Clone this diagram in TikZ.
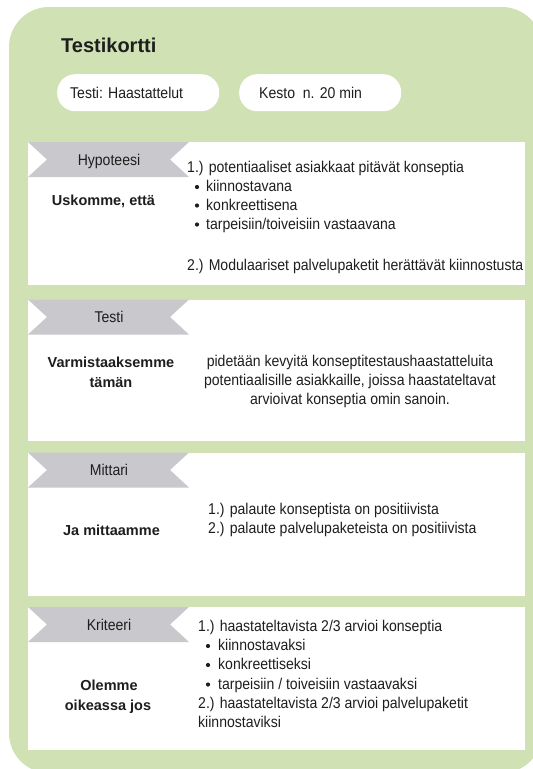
\documentclass[tikz,border=0pt]{standalone}
\usepackage{fontspec}
\setmainfont{Liberation Sans}
\newfontfamily\narrowsans[FakeStretch=0.9]{Liberation Sans}
\definecolor{cardgreen}{HTML}{D0E2B4}
\definecolor{ribbongray}{HTML}{C9C8CC}
\definecolor{ink}{HTML}{1E1E1E}
\begin{document}
\begin{tikzpicture}[x=1pt,y=-1pt,
  body/.style={font=\narrowsans\fontsize{15.6}{18}\selectfont, text=ink, inner sep=0pt},
  lbl/.style={font=\bfseries\fontsize{14.5}{18}\selectfont, text=ink, inner sep=0pt},
  ttl/.style={font=\bfseries\fontsize{20}{24}\selectfont, text=ink, inner sep=0pt},
  panel/.style={fill=white, draw=none, inner sep=0pt, anchor=north west,
    minimum width=497pt},
  pillbox/.style={fill=white, rounded corners=18pt, inner sep=0pt, anchor=north west,
    minimum width=162pt, minimum height=37pt},
  dot/.style={circle, fill=ink, inner sep=0pt, minimum size=4.2pt},
  ribbonpic/.pic={\fill[ribbongray] (0,0) -- (161,0) -- (142,17.5) -- (161,35)
    -- (0,35) -- (19,17.5) -- cycle;}
]
\useasboundingbox (0,0) rectangle (533,769);
\clip (0,0) rectangle (533,769);

% card background
\fill[cardgreen, rounded corners=40pt] (9,7) rectangle (542,773);

% title and header pills
\node[ttl, anchor=base west] (title) at (61,52) {Testikortti};
\node[pillbox] (pillA) at (57,74) {};
\node[pillbox] (pillB) at (239,74) {};
\node[body, anchor=base west] (pillAtext) at (70,98.5) {Testi: Haastattelut};
\node[body, anchor=base west] (pillBtext) at (259,98.5) {Kesto\ \ n. 20 min};

% white panels
\node[panel, minimum height=143pt] (p1) at (28,142) {};
\node[panel, minimum height=141.5pt] (p2) at (28,299.5) {};
\node[panel, minimum height=143.5pt] (p3) at (28,452.5) {};
\node[panel, minimum height=143pt] (p4) at (28,607) {};

% section ribbons
\pic at (28,142) {ribbonpic};
\pic at (28,299.5) {ribbonpic};
\pic at (28,452.5) {ribbonpic};
\pic at (28,607) {ribbonpic};
\node[body, anchor=base] (r1) at (109,165) {Hypoteesi};
\node[body, anchor=base] (r2) at (109,322.5) {Testi};
\node[body, anchor=base] (r3) at (109,475.5) {Mittari};
\node[body, anchor=base] (r4) at (109,630) {Kriteeri};

% hypothesis
\node[lbl, anchor=base] (l1) at (103.5,205) {Uskomme, että};
\node[body, anchor=base west] (h1) at (187,172.5) {1.) potentiaaliset asiakkaat pitävät konseptia};
\node[dot] (hd1) at (197,187) {};
\node[body, anchor=base west] (h2) at (206,191.5) {kiinnostavana};
\node[dot] (hd2) at (197,205.5) {};
\node[body, anchor=base west] (h3) at (206,210) {konkreettisena};
\node[dot] (hd3) at (197,224.5) {};
\node[body, anchor=base west] (h4) at (206,229) {tarpeisiin/toiveisiin vastaavana};
\node[body, anchor=base west] (h5) at (187,270) {2.) Modulaariset palvelupaketit herättävät kiinnostusta};

% test
\node[lbl, anchor=base] (l2a) at (111,367) {Varmistaaksemme};
\node[lbl, anchor=base] (l2b) at (111,387) {tämän};
\node[body, anchor=base] (t1) at (350,366) {pidetään kevyitä konseptitestaushaastatteluita};
\node[body, anchor=base] (t2) at (350,385.5) {potentiaalisille asiakkaille, joissa haastateltavat};
\node[body, anchor=base] (t3) at (350,404.5) {arvioivat konseptia omin sanoin.};

% metric
\node[lbl, anchor=base] (l3) at (111.5,535) {Ja mittaamme};
\node[body, anchor=base west] (m1) at (208,514.5) {1.) palaute konseptista on positiivista};
\node[body, anchor=base west] (m2) at (208,533.5) {2.) palaute palvelupaketeista on positiivista};

% criteria
\node[lbl, anchor=base] (l4a) at (109,690) {Olemme};
\node[lbl, anchor=base] (l4b) at (108,710) {oikeassa jos};
\node[body, anchor=base west] (k1) at (198,631) {1.) haastateltavista 2/3 arvioi konseptia};
\node[dot] (kd1) at (208,646) {};
\node[body, anchor=base west] (k2) at (218,650.5) {kiinnostavaksi};
\node[dot] (kd2) at (208,665) {};
\node[body, anchor=base west] (k3) at (218,669.5) {konkreettiseksi};
\node[dot] (kd3) at (208,684.5) {};
\node[body, anchor=base west] (k4) at (218,689) {tarpeisiin / toiveisiin vastaavaksi};
\node[body, anchor=base west] (k5) at (198,708) {2.) haastateltavista 2/3 arvioi palvelupaketit};
\node[body, anchor=base west] (k6) at (198,727) {kiinnostaviksi};
\end{tikzpicture}
\end{document}
